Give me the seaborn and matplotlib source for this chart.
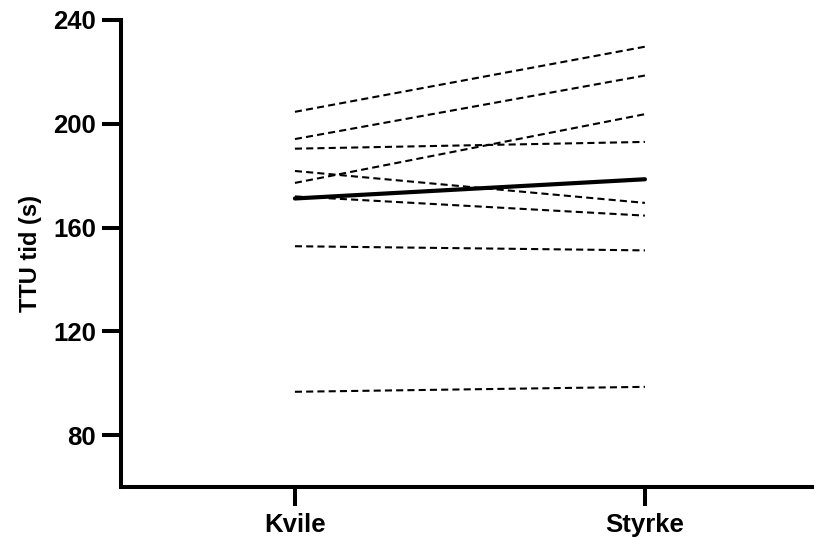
import numpy as np
import pandas as pd
import matplotlib
matplotlib.use("Agg")
import matplotlib.pyplot as plt
import seaborn as sns

conditions = ["Kvile", "Styrke"]
kvile = [204.6, 194.1, 177.2, 190.4, 181.8, 172.0, 152.8, 96.7]
styrke = [229.7, 218.6, 203.7, 193.0, 169.5, 164.6, 151.2, 98.6]
yticks = [80, 120, 160, 200, 240]

sns.set_style("white")
plt.rcParams['font.family'] = ['Liberation Sans', 'DejaVu Sans']
plt.rcParams['text.color'] = 'black'
plt.rcParams['axes.labelcolor'] = 'black'
plt.rcParams['xtick.color'] = 'black'
plt.rcParams['ytick.color'] = 'black'

n = len(kvile)
df = pd.DataFrame({
    "subject": list(range(n)) * 2,
    "cond": [conditions[0]] * n + [conditions[1]] * n,
    "val": kvile + styrke,
})
means = pd.DataFrame({"cond": conditions, "val": [np.mean(kvile), np.mean(styrke)]})

fig = plt.figure(figsize=(8.14, 5.37), dpi=100)
ax = fig.add_axes([0.1486, 0.0931, 0.8514, 0.8697])

sns.lineplot(data=df, x="cond", y="val", units="subject", estimator=None,
             color="black", linewidth=1.5, linestyle=(0, (3.4, 2.0)), ax=ax)
sns.lineplot(data=means, x="cond", y="val", color="black", linewidth=3.0, ax=ax)

ax.set_xlim(-0.497, 1.483)
ax.set_ylim(60, 240)
ax.set_yticks(yticks)
ax.set_yticklabels([str(t) for t in yticks])
ax.set_xticks([0, 1])
ax.set_xticklabels(conditions)

for s in ["top", "right"]:
    ax.spines[s].set_visible(False)
for s in ["left", "bottom"]:
    ax.spines[s].set_linewidth(2.9)
    ax.spines[s].set_color("black")

ax.tick_params(axis="both", left=True, bottom=True, length=14, width=2.9,
               color="black", labelcolor="black", direction="out",
               labelsize=18.5, pad=4)
ax.tick_params(axis="x", pad=5)
for lab in ax.get_xticklabels() + ax.get_yticklabels():
    lab.set_fontweight("bold")

ax.set_xlabel("")
ax.set_ylabel("TTU tid (s)", fontsize=17, fontweight="bold", labelpad=8, color="black")

fig.savefig("out.png", dpi=100)
